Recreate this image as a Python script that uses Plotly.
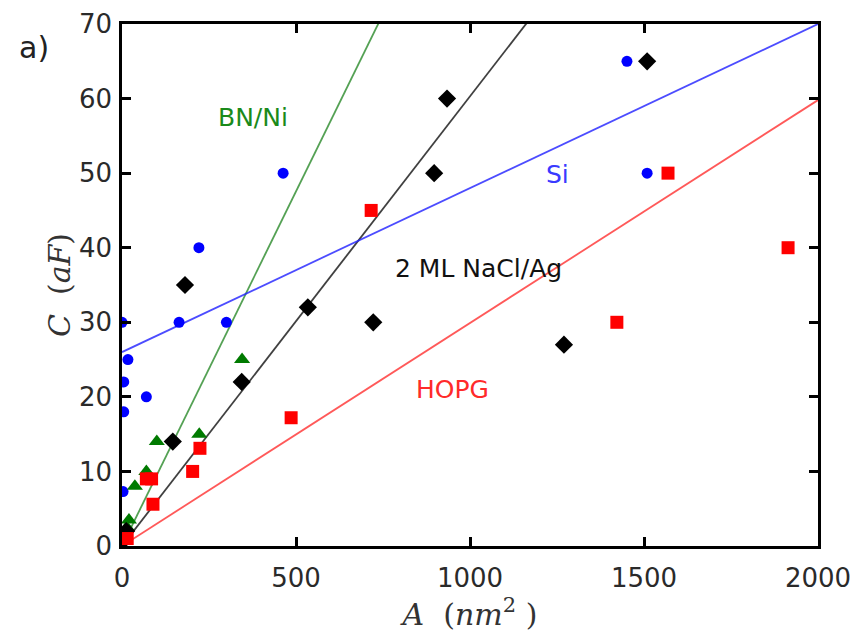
import plotly.graph_objects as go

# --- data ---
si_x = [0, 17, 5, 5, 3, 70, 164, 221, 300, 463, 1451, 1509]
si_y = [30, 25, 22, 18, 7.3, 20, 30, 40, 30, 50, 65, 50]

bn_x = [8, 14, 20, 37, 70, 100, 222, 345]
bn_y = [1.5, 2.5, 3.5, 8, 10, 14, 15, 25]

nacl_x = [5, 12, 146, 181, 344, 534, 722, 897, 934, 1270, 1509]
nacl_y = [0.8, 2, 14, 35, 22, 32, 30, 50, 60, 27, 65]

hopg_x = [15, 70, 85, 89, 203, 224, 486, 716, 1422, 1569, 1914]
hopg_y = [1, 9, 9, 5.6, 10, 13.1, 17.2, 45, 30, 50, 40]

# linear fits: (slope, intercept)
fit_bn = (0.0951, 0.0)
fit_nacl = (0.0603, 0.0)
fit_si = (0.022, 26.0)
fit_hopg = (0.0299, 0.0)
fit_x = [0, 2000]

x_ticks = [0, 500, 1000, 1500, 2000]
y_ticks = [0, 10, 20, 30, 40, 50, 60, 70]

labels = [("BN/Ni", 376, 57.5, "#1a8a1a"),
          ("Si", 1250, 49.8, "#3a3aff"),
          ("2 ML NaCl/Ag", 1023, 37.2, "#111111"),
          ("HOPG", 951, 21, "#ff2a2a")]

BLUE = "#0000ff"
GREEN = "#007a00"
BLACK = "#000000"
RED = "#ff0000"

fig = go.Figure()

def fit_line(fit, color):
    m, b = fit
    fig.add_trace(go.Scatter(x=fit_x, y=[m * x + b for x in fit_x], mode="lines",
                             line=dict(color=color, width=1.8), opacity=0.8,
                             showlegend=False, hoverinfo="skip"))

fit_line(fit_bn, "#2a8a2a")
fit_line(fit_nacl, "#111111")
fit_line(fit_si, "#2020ff")
fit_line(fit_hopg, "#ff3030")

fig.add_trace(go.Scatter(x=si_x, y=si_y, mode="markers",
                         marker=dict(symbol="circle", size=11, color=BLUE), showlegend=False))
fig.add_trace(go.Scatter(x=bn_x, y=bn_y, mode="markers",
                         marker=dict(symbol="triangle-up", size=14, color=GREEN), showlegend=False))
fig.add_trace(go.Scatter(x=nacl_x, y=nacl_y, mode="markers",
                         marker=dict(symbol="diamond", size=14, color=BLACK), showlegend=False))
fig.add_trace(go.Scatter(x=hopg_x, y=hopg_y, mode="markers",
                         marker=dict(symbol="square", size=13, color=RED), showlegend=False))

for txt, x, y, c in labels:
    fig.add_annotation(x=x, y=y, text=txt, showarrow=False, xref="x", yref="y",
                       font=dict(family="DejaVu Sans", size=25, color=c))

fig.add_annotation(x=-0.127, y=0.955, xref="paper", yref="paper", text="a)", showarrow=False,
                   xanchor="center", yanchor="middle",
                   font=dict(family="DejaVu Sans", size=30, color="#222222"))

axis_common = dict(showgrid=False, zeroline=False, showline=True, linecolor="black",
                   linewidth=2.5, mirror="ticks", ticks="inside", ticklen=9,
                   tickwidth=2.5, tickcolor="black", ticklabeloverflow="allow",
                   automargin=False,
                   tickfont=dict(family="DejaVu Sans", size=26, color="#2a2a2a"))

fig.update_xaxes(range=[0, 2000], tickvals=x_ticks, ticktext=[str(v) for v in x_ticks],
                 ticklabelstandoff=7,
                 title=dict(text="<i>A</i>  (<i>nm</i><sup>2</sup> )", standoff=0,
                            font=dict(family="DejaVu Serif", size=30, color="#333333")),
                 **axis_common)
fig.update_yaxes(range=[0, 70], tickvals=y_ticks, ticktext=[str(v) for v in y_ticks],
                 ticklabelstandoff=2,
                 title=dict(text="<i>C</i>  (<i>aF</i>)", standoff=0,
                            font=dict(family="DejaVu Serif", size=30, color="#333333")),
                 **axis_common)

fig.update_layout(width=863, height=632, plot_bgcolor="white", paper_bgcolor="white",
                  margin=dict(l=114, r=53, t=16, b=94))

fig.write_html("out.html")
